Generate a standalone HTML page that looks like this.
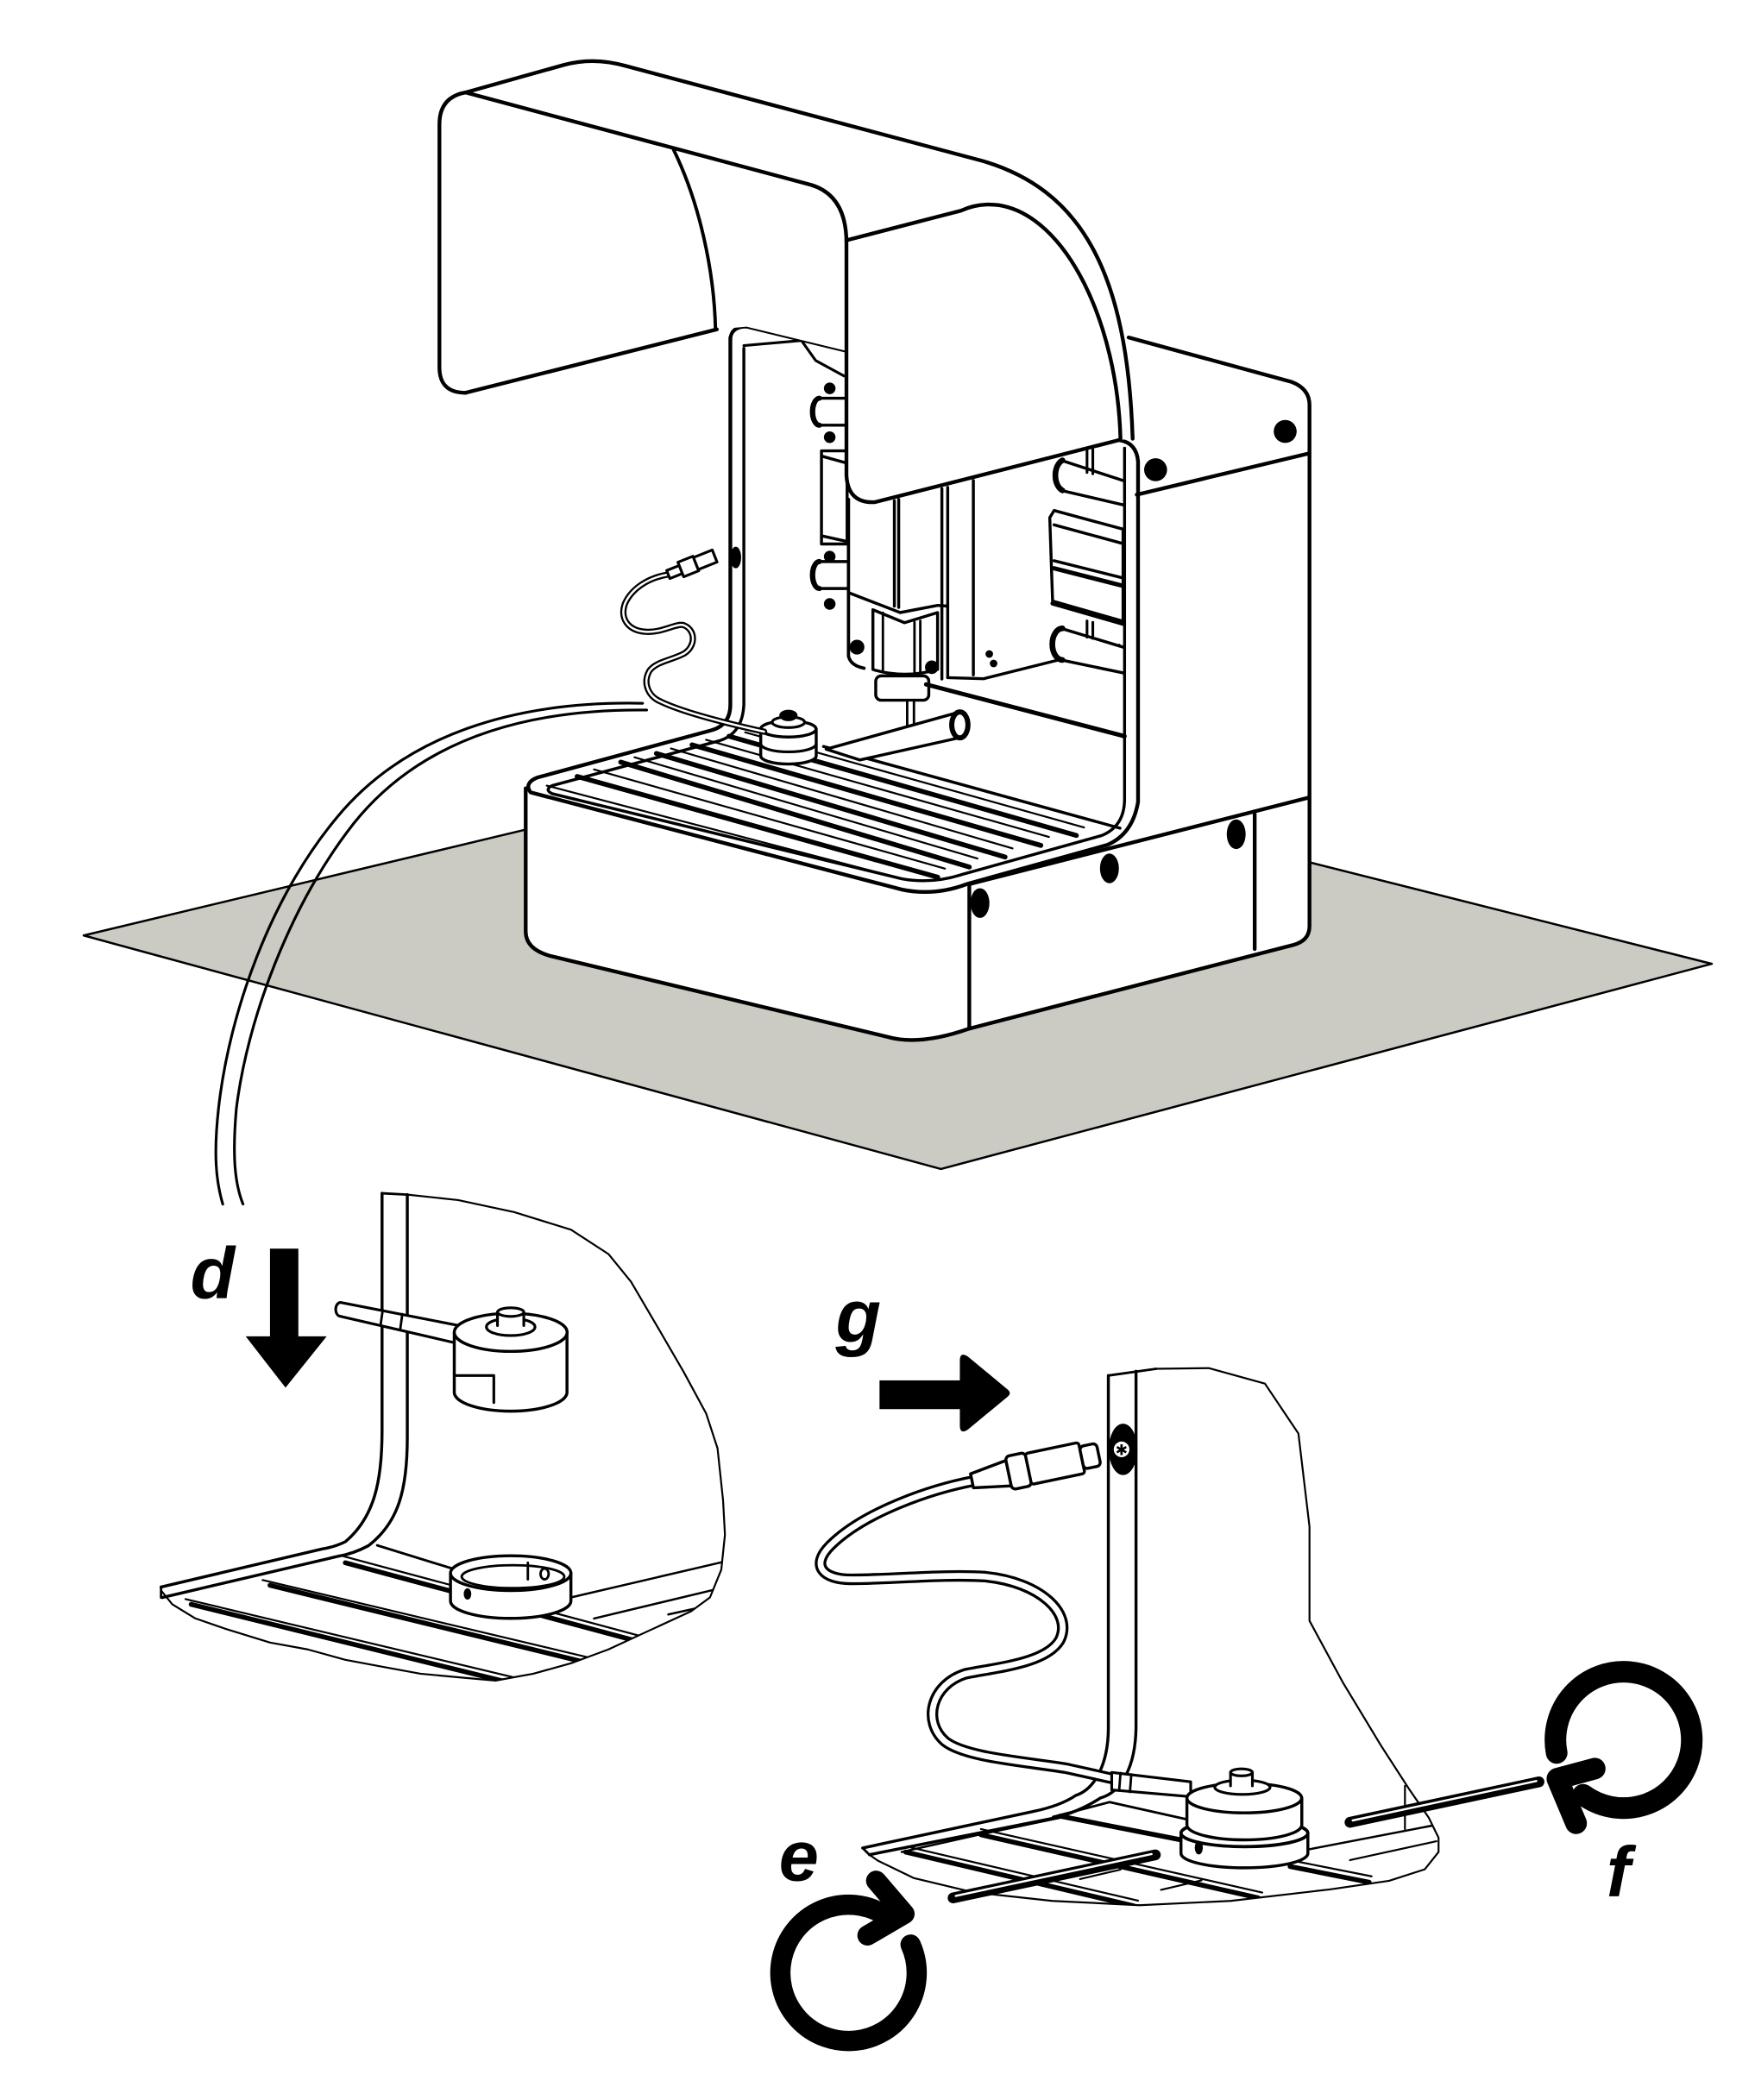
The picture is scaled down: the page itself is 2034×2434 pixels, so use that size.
<!DOCTYPE html>
<html><head><meta charset="utf-8"><title>diagram</title>
<style>
html,body{margin:0;padding:0;background:#fff;width:2034px;height:2434px;overflow:hidden}
svg{display:block}
.lbl{font-family:"Liberation Sans",Arial,sans-serif;font-weight:700;font-style:italic;fill:#000}
</style></head><body>
<svg xmlns="http://www.w3.org/2000/svg" width="2034" height="2434" viewBox="0 0 1300 1555.7" preserveAspectRatio="none">
<defs>
<clipPath id="cd"><path d="M283,884 L301.7,885 L339.3,889 L381,898 L423,911 L450.7,929 L467.4,949.5 L487,982.9 L506.4,1016.3 L523.1,1047.2 L531.5,1072.9 L535.6,1111.4 L537,1137 L534.3,1162.8 L525.9,1183.4 L512,1193.6 L478.6,1209 L450.7,1221.9 L422.9,1232.2 L395,1239.9 L367.1,1245 L339.3,1242.5 L311.5,1239.9 L283.6,1234.8 L255.8,1229.6 L227.9,1221.9 L200,1216.8 L166.6,1206.5 L144.4,1198.8 L127.6,1188.5 L119.3,1178.2 L119.3,1175.7 L239,1147.4 L255.8,1142.2 L272.5,1124.3 L280.8,1098.6 L283,1060 Z"/></clipPath>
<clipPath id="cg"><path d="M821,1019 L856.4,1014 L895.4,1013.5 L937,1025 L961.8,1062 L970,1131 L970,1200.7 L995,1246.9 L1023,1293.2 L1043.6,1325.1 L1058.3,1346.5 L1065.6,1361.4 L1065.6,1372 L1055.4,1384.8 L1029,1393.3 L985,1399.7 L911.5,1408.2 L844,1411.4 L779.5,1408.2 L720.7,1401.8 L676.7,1391.2 L650.3,1378.4 L644,1374 L639,1369 L765,1342 L797,1330 L814.7,1304 L821,1272 Z"/></clipPath>
</defs>
<rect x="0" y="0" width="1300" height="1556" fill="#fff"/>

<g fill="none" stroke="#000" stroke-linecap="round" stroke-linejoin="round">

<!-- FLOOR -->
<polygon points="62,693 638,555 1268,714 697,866" fill="#cbcbc4" stroke-width="1.6"/>

<!-- MACHINE WHITE SILHOUETTE -->
<path d="M389,584 L389,690 Q389,704 407,709 L657,769 Q681,776 718,763 L958,700 Q970,697 970,686 L970,300 Q970,287 957,283 L836,250 L541,245 L541,522 L400,575 Z" fill="#fff" stroke="none"/>

<!-- TOWER -->
<g stroke-width="2.8">
<path d="M836,250 L957,283 Q970,288 970,300 L970,686 Q970,697 958,700 L718,762"/>
<path d="M842,366.5 L969,336"/>
<path d="M718,655 L969,591"/>
<path d="M929.4,603 L929.4,703"/>
<path d="M718,655 L718,762"/>
</g>
<circle cx="952" cy="319.6" r="8.5" fill="#000" stroke="none"/>
<circle cx="856" cy="348" r="8.5" fill="#000" stroke="none"/>
<ellipse cx="915.7" cy="618" rx="7" ry="11" fill="#000" stroke="none"/>
<ellipse cx="821.8" cy="643.3" rx="7" ry="11" fill="#000" stroke="none"/>
<ellipse cx="725.9" cy="669" rx="7" ry="11" fill="#000" stroke="none"/>

<!-- BASE FRONT -->
<path d="M389.4,584 L389.4,690 Q389.4,703 407,708 L657,768 Q681,775 718,762" stroke-width="2.8"/>

<!-- INTERIOR -->
<polyline points="551,256 593.7,252.3 604.2,267.1 625.2,278.5" stroke-width="2"/>
<path d="M627,295 L606,295 A5,10 0 0 0 606,315 L627,315" fill="#fff" stroke-width="2.2"/>
<path d="M607,295 A5,10 0 0 0 607,315" stroke-width="3.8"/>
<circle cx="614.6" cy="287.7" r="4.3" fill="#000" stroke="none"/>
<circle cx="614.6" cy="323.9" r="4.3" fill="#000" stroke="none"/>
<path d="M627,416 L606,416 A5,10 0 0 0 606,436 L627,436" fill="#fff" stroke-width="2.2"/>
<path d="M607,416 A5,10 0 0 0 607,436" stroke-width="3.8"/>
<circle cx="614.6" cy="412.3" r="4.3" fill="#000" stroke="none"/>
<circle cx="614.6" cy="447.4" r="4.3" fill="#000" stroke="none"/>
<rect x="608.5" y="334" width="19" height="69" fill="#fff" stroke-width="2.2"/>
<path d="M609,338 L627,343 M609,397 L627,401" stroke-width="2.2"/>
<path d="M628.5,370 L628.5,486 Q630,493 640,495" stroke-width="2.4"/>
<path d="M662.5,371 L662.5,449 M665.7,370 L665.7,450 M697.7,362 L697.7,503 M702,361 L702,502 M721,356 L721,500" stroke-width="2.2"/>
<path d="M628.5,439 L666.8,453.8 L694.5,448.5 L702,449" stroke-width="2.2"/>
<path d="M646.6,451.7 L670,461.3 L694.5,453.8 L694.5,496 Q670,503 646.6,496 Z" fill="#fff" stroke-width="2.2"/>
<path d="M654,454 L654,498 M677.4,461 L677.4,500 M681.7,460 L681.7,500" stroke-width="1.8"/>
<rect x="648.7" y="500.7" width="39.3" height="18" rx="4" fill="#fff" stroke-width="2.2"/>
<rect x="672" y="518.8" width="5" height="20" fill="#fff" stroke-width="1.8"/>
<circle cx="634.8" cy="479.4" r="5.5" fill="#000" stroke="none"/>
<circle cx="690.2" cy="494.3" r="5" fill="#000" stroke="none"/>
<circle cx="732.8" cy="484.5" r="2.8" fill="#000" stroke="none"/>
<circle cx="736" cy="491.5" r="2.8" fill="#000" stroke="none"/>
<path d="M686,507 L833,545.4" stroke-width="3.2"/>
<path d="M702,502 L728.6,502.8 L779.7,490 L829,478" stroke-width="2.2"/>
<path d="M832,356 L786,341 A7.5,11.7 0 0 0 786,363.3 L832,374" fill="#fff" stroke-width="2.2"/>
<path d="M787,341 A7.5,11.7 0 0 0 787,363.3" stroke-width="4.2"/>
<path d="M832,479.4 L786,465.5 A7.5,11.7 0 0 0 786,488.9 L832,498.5" fill="#fff" stroke-width="2.2"/>
<path d="M787,465.5 A7.5,11.7 0 0 0 787,488.9" stroke-width="4.2"/>
<polygon points="780.8,378.2 831.9,392 831.9,460.2 779.7,445.3 777.6,383.5" fill="#fff" stroke-width="2.2"/>
<path d="M780.8,388.8 L831.9,402.7 M780.8,415.4 L831.9,428.2" stroke-width="2.2"/>
<path d="M780.8,421 L831.9,434 M779.7,447 L831.9,462" stroke-width="3.2"/>
<path d="M805.2,332 L805.2,350 M809.5,333 L809.5,351 M805.2,460 L805.2,472 M809.5,461 L809.5,473" stroke-width="2"/>
<path d="M610,553 L829.6,613.5" stroke-width="2.2"/>

<!-- T-SLOTS -->
<g stroke-width="3.6">
<path d="M427.5,575.2 L694.6,649.8"/>
<path d="M459.8,564.6 L718,642.3"/>
<path d="M486.2,558.2 L744.5,634.9"/>
<path d="M512.6,551.8 L771,626.3"/>
<path d="M540,545.4 L797.3,618.9"/>
</g>
<g stroke-width="1.4">
<path d="M440,570 L700,643.5"/>
<path d="M470,561 L724,636"/>
<path d="M497,554.5 L750,628.5"/>
<path d="M523,548 L777,620"/>
<path d="M552,542.5 L803,613"/>
</g>
<path d="M405,582 L672,652" stroke-width="1.4"/>

<!-- rod on table -->
<path d="M612,555 L709,528 L713,546 L637,563 Z" fill="#fff" stroke-width="2.2"/>
<ellipse cx="711" cy="537" rx="6" ry="9.6" fill="#fff" stroke-width="3.8"/>
<!-- probe on table -->
<path d="M563.5,540 L563.5,560 A20.5,6 0 0 0 604.6,560 L604.6,540" fill="#fff" stroke-width="2.2"/>
<ellipse cx="584" cy="540" rx="20.5" ry="6" fill="#fff" stroke-width="2.2"/>
<path d="M563.5,551 A20.5,6 0 0 0 604.6,551" stroke-width="2"/>
<ellipse cx="584" cy="535" rx="12" ry="4" fill="#fff" stroke-width="2"/>
<ellipse cx="584" cy="530" rx="6" ry="3.5" fill="#000" stroke-width="1.5"/>

<!-- FRAME -->
<path d="M541,252 Q541,242 553,242 L627,260" stroke-width="2.6"/>
<path d="M541,250 L541,522 Q541,537 527,541 L398,576 Q388,580 393,587 L668,659 Q692,664 716,655 L820,626 Q839,618 843,594 L843,342 Q842,328 829,326" stroke-width="2.8"/>
<path d="M551,258 L551,522 Q550,544 532,549 L409,582 Q403,585 409,588 L668,651 Q690,655 712,648 L816,619 Q833,612 833,592 L833,332" stroke-width="2.2"/>

<!-- HOOD -->
<path d="M344.8,291 Q325.5,291 325.5,272 L325.5,92 Q325.5,72 344.8,68.5 L418,48 Q440,42 464,49 L727,119 C800,140 835,200 839,325 L829,326 L646,372 Q627,372 627,352 L627,260 L553,242 L531,244 Z" fill="#fff" stroke="none"/>
<path d="M344.8,291 Q325.5,291 325.5,272 L325.5,92 Q325.5,72 344.8,68.5 L418,48 Q440,42 464,49 L727,119 C800,140 835,200 839,325" stroke-width="2.8"/>
<path d="M344.8,68.5 L601,137 Q627,145 627,180 L627,352 Q628,373 648,372 L829,326" stroke-width="2.8"/>
<path d="M344.8,291 L531,244" stroke-width="2.8"/>
<path d="M499,111 C518,150 529,200 530,244" stroke-width="2.5"/>
<path d="M627,178 L712,156 Q725,150 740,152 C790,160 828,240 830,326" stroke-width="2.8"/>

<!-- CABLE upper -->
<path d="M495,425.6 C480,428 468,436 463,447 C459,458 465,467 478,468 C490,469 500,462 506,463 C515,466 516,478 507,484 C498,489 486,490 481,497 C476,506 480,516 490,520 C505,527 530,534 566,542" stroke-width="4.6"/>
<path d="M495,425.6 C480,428 468,436 463,447 C459,458 465,467 478,468 C490,469 500,462 506,463 C515,466 516,478 507,484 C498,489 486,490 481,497 C476,506 480,516 490,520 C505,527 530,534 566,542" stroke="#fff" stroke-width="1.6"/>
<g transform="translate(495,425.6) rotate(-21.7)" fill="#fff" stroke-width="2">
<rect x="0" y="-3.2" width="10" height="6.4"/>
<rect x="10" y="-5.8" width="12" height="11.6"/>
<rect x="22" y="-4.8" width="15" height="9.6"/>
</g>
<ellipse cx="545" cy="413" rx="4" ry="8" fill="#000" stroke="none"/>

<!-- CALLOUT ARC -->
<path d="M476,521 C380,519 300,545 250,605 C200,665 170,750 162,820 C158,855 160,875 165,892" stroke-width="2"/>
<path d="M479,526 C385,525 310,550 262,610 C215,670 183,755 175,822 C172,857 174,877 180,892" stroke-width="2"/>

<!-- ============ INSET D ============ -->
<g clip-path="url(#cd)">
<path d="M279.4,1144.8 L335,1162" stroke-width="1.8"/>
<path d="M253,1152.5 L480,1213.5" stroke-width="1.4"/>
<path d="M255.8,1157.7 L482,1218.5" stroke-width="3.6"/>
<path d="M194.5,1170.5 L445,1230" stroke-width="1.4"/>
<path d="M200,1174.4 L448,1235" stroke-width="3.6"/>
<path d="M137.4,1184.6 L420,1252" stroke-width="1.4"/>
<path d="M141.6,1188.5 L420,1257" stroke-width="3.6"/>
<path d="M422.9,1183.4 L536,1157" stroke-width="1.6"/>
<path d="M440,1199 L536,1176" stroke-width="1.6"/>
<path d="M495,1196 L536,1187" stroke-width="1.6"/>
</g>
<path d="M283,884 L283,1060 C283,1098 277,1124 256,1142 Q248,1146 239,1147.4 L119.3,1175.7" stroke-width="2.2"/>
<path d="M301.7,885 L301.7,1065 C301.7,1104 295,1128 273,1145 Q262,1151 250,1153 L120,1183.5" stroke-width="2.2"/>
<path d="M283,884 L301.7,885" stroke-width="1.8"/>
<path d="M119.3,1175.7 L119.3,1183.5" stroke-width="1.8"/>
<polyline points="301.7,885 339.3,889 381,898 423,911 450.7,929 467.4,949.5 487,982.9 506.4,1016.3 523.1,1047.2 531.5,1072.9 535.6,1111.4 537,1137 534.3,1162.8 525.9,1183.4 512,1193.6 478.6,1209 450.7,1221.9 422.9,1232.2 395,1239.9 367.1,1245 339.3,1242.5 311.5,1239.9 283.6,1234.8 255.8,1229.6 227.9,1221.9 200,1216.8 166.6,1206.5 144.4,1198.8 127.6,1188.5 119.3,1178.2" stroke-width="1.4"/>
<path d="M345,983 L253,965 A3.5,5 0 0 0 251.5,975 L338,995 Z" fill="#fff" stroke-width="2"/>
<path d="M283.5,970.5 L282,981 M298,973.5 L296.5,984.5" stroke-width="1.8"/>
<path d="M336.5,987 L336.5,1032 A41.8,14.1 0 0 0 420,1032 L420,987" fill="#fff" stroke-width="2.2"/>
<ellipse cx="378.3" cy="987" rx="41.8" ry="14.1" fill="#fff" stroke-width="2.2"/>
<ellipse cx="378.3" cy="983" rx="18" ry="6.4" fill="#fff" stroke-width="2"/>
<path d="M368.5,982 L368.5,972 L388,972 L388,982" fill="#fff" stroke-width="2"/>
<ellipse cx="378.3" cy="972" rx="9.7" ry="3.2" fill="#fff" stroke-width="2"/>
<path d="M337.9,1019 L365.8,1019 L365.8,1039" stroke-width="2"/>
<path d="M333.7,1165.4 L333.7,1186 A44.6,12.9 0 0 0 422.9,1186 L422.9,1165.4" fill="#fff" stroke-width="2.2"/>
<ellipse cx="378.3" cy="1165.4" rx="44.6" ry="12.9" fill="#fff" stroke-width="2.2"/>
<ellipse cx="380" cy="1168" rx="38" ry="8.5" fill="#fff" stroke-width="1.8"/>
<path d="M391,1157.7 L391,1170" stroke-width="1.8"/>
<ellipse cx="346.3" cy="1180.8" rx="2.8" ry="4.2" fill="#000" stroke="none"/>
<ellipse cx="403.4" cy="1166" rx="3" ry="4" fill="#fff" stroke-width="1.8"/>

<!-- ============ INSET G ============ -->
<g clip-path="url(#cg)">
<path d="M780,1346 L822,1335 L880,1348" stroke-width="1.8"/>
<path d="M667.9,1372 L791,1344.3" stroke-width="1.6"/>
<path d="M729.6,1358.2 L791,1345.4" stroke-width="1.6"/>
<path d="M672,1368 L843,1408" stroke-width="1.4"/>
<path d="M670.9,1372 L840,1412" stroke-width="3.6"/>
<path d="M726.6,1355 L935,1402" stroke-width="1.4"/>
<path d="M726.6,1359.2 L932,1406" stroke-width="3.6"/>
<path d="M785.3,1345.4 L880,1364" stroke-width="3.6"/>
<path d="M955.6,1382.7 L1014.2,1394.4" stroke-width="3.6"/>
<path d="M958,1378.5 L1016,1390" stroke-width="1.4"/>
<path d="M970.2,1369.9 L1064.2,1351.8" stroke-width="1.6"/>
<path d="M1000,1378 L1064,1364" stroke-width="1.4"/>
<path d="M1040.7,1323 L1040.7,1355" stroke-width="1.4"/>
<path d="M800,1392 L830,1385 M860,1400 L890,1393" stroke-width="1.4"/>
</g>
<path d="M821,1019 L821,1280 C821,1305 812,1325 797,1330 Q785,1338 765,1342 L639,1369" stroke-width="2.2"/>
<path d="M841.5,1015.8 L841.5,1280 C841,1310 830,1328 815,1332 Q800,1342 780,1347 L644,1374" stroke-width="2.2"/>
<path d="M821,1019 L856.4,1014" stroke-width="1.8"/>
<path d="M639,1369 L644,1374" stroke-width="1.8"/>
<polyline points="856.4,1014 895.4,1013.5 937,1025 961.8,1062 970,1131 970,1200.7 995,1246.9 1023,1293.2 1043.6,1325.1 1058.3,1346.5 1065.6,1361.4 1065.6,1372 1055.4,1384.8 1029,1393.3 985,1399.7 911.5,1408.2 844,1411.4 779.5,1408.2 720.7,1401.8 676.7,1391.2 650.3,1378.4 644,1374" stroke-width="1.4"/>
<ellipse cx="831.9" cy="1073.7" rx="10.6" ry="19" fill="#000" stroke="none"/>
<circle cx="830.8" cy="1073.7" r="5.8" fill="#fff" stroke="none"/>
<text x="830.8" y="1078" font-size="11" text-anchor="middle" fill="#000" stroke="none" font-family="DejaVu Sans, sans-serif">✱</text>
<path d="M722,1097 C690,1103 640,1120 615,1145 C600,1160 610,1170 630,1170 C660,1170 700,1166 730,1168 C770,1172 795,1195 785,1215 C775,1232 740,1235 715,1240 C690,1248 683,1275 700,1290 C715,1302 760,1305 790,1310 L826,1318" stroke-width="8.5"/>
<path d="M722,1097 C690,1103 640,1120 615,1145 C600,1160 610,1170 630,1170 C660,1170 700,1166 730,1168 C770,1172 795,1195 785,1215 C775,1232 740,1235 715,1240 C690,1248 683,1275 700,1290 C715,1302 760,1305 790,1310 L826,1318" stroke="#fff" stroke-width="4.3"/>
<path d="M823.5,1313 L882,1320 L882,1331 L823.5,1326 Z" fill="#fff" stroke-width="2"/>
<path d="M830,1313.5 L829,1326.5 M838,1314.5 L837,1327.5" stroke-width="1.8"/>
<g transform="translate(720,1097) rotate(-11.8)" fill="#fff" stroke-width="2.2">
<path d="M0,-5.3 L27.7,-9.6 L27.7,9.6 L0,5.3 Z"/>
<rect x="27.7" y="-12.5" width="15" height="25" rx="3"/>
<rect x="42.6" y="-11.7" width="40.4" height="23.4" rx="2"/>
<rect x="83" y="-8.5" width="12.8" height="17" rx="3"/>
</g>
<path d="M874.8,1358 L874.8,1373 A47,10.7 0 0 0 968.8,1373 L968.8,1358" fill="#fff" stroke-width="2.2"/>
<ellipse cx="921.8" cy="1358" rx="47" ry="10" fill="#fff" stroke-width="2.4"/>
<path d="M879.2,1332 L879.2,1352 A42.5,11 0 0 0 964.3,1352 L964.3,1332" fill="#fff" stroke-width="2.2"/>
<ellipse cx="921.7" cy="1332" rx="42.5" ry="11" fill="#fff" stroke-width="2.2"/>
<ellipse cx="920.3" cy="1324" rx="20.5" ry="5.3" fill="#fff" stroke-width="2"/>
<path d="M911.5,1323 L911.5,1313 L927.7,1313 L927.7,1323" fill="#fff" stroke-width="2"/>
<ellipse cx="919.6" cy="1313" rx="8.1" ry="2.6" fill="#fff" stroke-width="2"/>
<ellipse cx="888" cy="1368.8" rx="3" ry="5" fill="#000" stroke="none"/>
<path d="M706,1406 L855.8,1374.1" stroke-width="8"/>
<path d="M708,1404.5 L853,1373.5" stroke="#fff" stroke-width="1.6"/>
<path d="M1000,1350 L1140,1320" stroke-width="8"/>
<path d="M1002,1348.6 L1138,1319.4" stroke="#fff" stroke-width="1.6"/>

</g>

<!-- ARROWS -->
<g fill="#000" stroke="none">
<rect x="200" y="925" width="21" height="68"/>
<polygon points="182,990 242,990 211.5,1028"/>
<rect x="651.5" y="1022.6" width="63" height="21.3"/>
<path d="M711,1008 Q711,1001 717,1005 L746,1029 Q750,1032 746,1035 L717,1059 Q711,1063 711,1056 Z"/>
</g>
<g fill="none" stroke="#000" stroke-linecap="round" stroke-linejoin="round">
<path d="M674.5,1440.6 A50.5,50.5 0 1 1 654.5,1418.2" stroke-width="15"/>
<polyline points="649,1393.3 670,1417.8 642.6,1433.8" stroke-width="15"/>
<path d="M1153.1,1298.6 A50.5,50.5 0 1 1 1172.7,1329.6" stroke-width="16"/>
<polyline points="1181.3,1310.2 1153.6,1317.7 1167.5,1350.7" stroke-width="16"/>
</g>

<!-- LABELS -->
<text class="lbl" x="141" y="962" font-size="54">d</text>
<text class="lbl" x="619" y="994" font-size="55">g</text>
<text class="lbl" x="577" y="1393" font-size="53">e</text>
<text class="lbl" x="1190" y="1405" font-size="53">f</text>
</svg>
</body></html>
